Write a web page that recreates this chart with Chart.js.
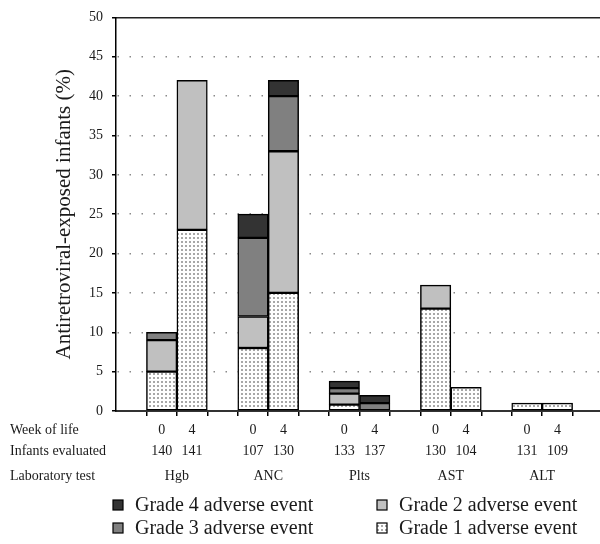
<!DOCTYPE html>
<html>
<head>
<meta charset="utf-8">
<script src="https://cdn.jsdelivr.net/npm/chart.js@4"></script>
<style>
  html, body { margin: 0; padding: 0; background: #fff; }
  #wrap { width: 600px; height: 544px; }
</style>
</head>
<body>
<div id="wrap"><canvas id="myChart"></canvas></div>
<script>
// data (order: Hgb w0, Hgb w4, ANC w0, ANC w4, ...)
const tests = ['Hgb', 'ANC', 'Plts', 'AST', 'ALT'];
const weeks = ['0', '4'];
const infantsEvaluated = [140, 141, 107, 130, 133, 137, 130, 104, 131, 109];
const grade1 = [5, 23, 8, 15, 0.8, 0, 13, 3, 1, 1];
const grade2 = [4, 19, 4, 18, 1.4, 0, 3, 0, 0, 0];
const grade3 = [1, 0, 10, 7, 0.7, 1, 0, 0, 0, 0];
const grade4 = [0, 0, 3, 2, 0.9, 1, 0, 0, 0, 0];
const gradeLabels = ['Grade 1 adverse event', 'Grade 2 adverse event', 'Grade 3 adverse event', 'Grade 4 adverse event'];

document.addEventListener("DOMContentLoaded", function () {
  const canvas = document.getElementById("myChart");
  const ctx = canvas.getContext('2d');

  // each test gets a gap slot followed by one slot per week
  const barCenters = tests.flatMap((t, i) => weeks.map((w, j) => 1.5 + 3 * i + j));
  const groupCenters = tests.map((t, i) => 2 + 3 * i);
  const edgeTicks = tests.flatMap((t, i) => [1, 2, 3].map(k => k + 3 * i));
  const xMax = 15.9;

  function toPoints(values) {
    return values.map((v, k) => ({ x: barCenters[k], y: v })).filter(p => p.y > 0);
  }

  // dotted fill for grade 1
  const tile = document.createElement('canvas');
  tile.width = 4; tile.height = 4;
  const tg = tile.getContext('2d');
  tg.fillStyle = '#ffffff'; tg.fillRect(0, 0, 4, 4);
  tg.fillStyle = '#a8a8a8'; tg.fillRect(1, 1, 2, 2);
  const stipple = ctx.createPattern(tile, 'repeat');

  Chart.defaults.font.family = '"Liberation Serif", "Times New Roman", serif';
  Chart.defaults.color = '#1a1a1a';

  const barStyle = { borderColor: '#000', borderWidth: 1.5, borderSkipped: false, barPercentage: 1, categoryPercentage: 1 };

  const sideText = {
    id: 'sideText',
    afterDraw(chart) {
      const c = chart.ctx;
      const xw = chart.scales.xw, xl = chart.scales.xl;
      c.save();
      c.fillStyle = '#1a1a1a';
      c.textAlign = 'left';
      c.textBaseline = 'middle';
      c.font = '14px "Liberation Serif"';
      const row1 = xw.top + 4 + 10.5;
      c.fillText('Week of life', 10, row1);
      c.fillText('Infants evaluated', 10, row1 + 21);
      c.fillText('Laboratory test', 10, xl.top + 1.5 + 10.5);

      // legend, two columns: grade 4 / grade 3 on the left, grade 2 / grade 1 on the right
      const ds = chart.data.datasets;
      const layout = [[3, 1], [2, 0]];
      const colX = [113, 377];
      const rowY = [xl.bottom + 17, xl.bottom + 40];
      c.font = '20px "Liberation Serif"';
      layout.forEach((row, r) => {
        row.forEach((di, col) => {
          const x = colX[col], y = rowY[r];
          c.fillStyle = ds[di].backgroundColor;
          c.fillRect(x, y - 5, 10, 10);
          c.strokeStyle = '#000';
          c.lineWidth = 1.2;
          c.strokeRect(x, y - 5, 10, 10);
          c.fillStyle = '#1a1a1a';
          c.fillText(ds[di].label, x + 22, y + 1);
        });
      });
      c.restore();
    }
  };

  const labelAxis = {
    type: 'linear',
    position: 'bottom',
    min: 0, max: xMax,
    offset: false,
    grid: { display: false, drawTicks: false, tickLength: 0, offset: false },
    border: { display: false }
  };

  new Chart(canvas, {
    type: 'bar',
    data: {
      datasets: [
        { label: gradeLabels[0], data: toPoints(grade1), backgroundColor: stipple, ...barStyle },
        { label: gradeLabels[1], data: toPoints(grade2), backgroundColor: '#c0c0c0', ...barStyle },
        { label: gradeLabels[2], data: toPoints(grade3), backgroundColor: '#808080', ...barStyle },
        { label: gradeLabels[3], data: toPoints(grade4), backgroundColor: '#333333', ...barStyle }
      ]
    },
    options: {
      responsive: true,
      maintainAspectRatio: false,
      animation: false,
      layout: { padding: { top: 16, right: 0, bottom: 56, left: 0 } },
      plugins: {
        legend: { display: false },
        tooltip: { enabled: false }
      },
      scales: {
        x: {
          type: 'linear',
          stacked: true,
          min: 0, max: xMax,
          offset: false,
          weight: 0,
          afterBuildTicks: s => { s.ticks = edgeTicks.map(v => ({ value: v })); },
          afterFit: s => { s.height = 5; },
          ticks: { display: false },
          grid: { offset: false, drawOnChartArea: false, tickLength: 5, color: '#000', lineWidth: 1.5 },
          border: { display: true, color: '#333', width: 2 }
        },
        xw: {
          ...labelAxis,
          weight: 1,
          afterBuildTicks: s => { s.ticks = barCenters.map(v => ({ value: v })); },
          afterFit: s => { s.height = 48; },
          ticks: {
            autoSkip: false, maxRotation: 0, padding: 4,
            font: { size: 14, lineHeight: 1.5 },
            callback: (v, i) => [weeks[i % 2], String(infantsEvaluated[i])]
          }
        },
        xl: {
          ...labelAxis,
          weight: 2,
          afterBuildTicks: s => { s.ticks = groupCenters.map(v => ({ value: v })); },
          afterFit: s => { s.height = 24; },
          ticks: {
            autoSkip: false, maxRotation: 0, padding: 1.5,
            font: { size: 14, lineHeight: 1.5 },
            callback: (v, i) => tests[i]
          }
        },
        xt: {
          ...labelAxis,
          position: 'top',
          display: true,
          afterFit: s => { s.height = 0; },
          ticks: { display: false },
          border: { display: true, color: '#222', width: 1.5 }
        },
        y: {
          stacked: true,
          min: 0, max: 50,
          afterFit: s => { s.width = 116; },
          ticks: { stepSize: 5, padding: 9, font: { size: 14 } },
          grid: {
            color: c => (c.tick && c.tick.value > 0 && c.tick.value < 50) ? '#8a8a8a' : 'rgba(0,0,0,0)',
            lineWidth: 1.5,
            tickColor: '#000',
            tickLength: 4
          },
          border: { display: true, color: '#000', width: 1.5, dash: [1.5, 10.5], dashOffset: 11 },
          title: {
            display: true,
            text: 'Antiretroviral-exposed infants (%)',
            font: { size: 21 },
            padding: { top: 52, bottom: 0 }
          }
        }
      }
    },
    plugins: [sideText]
  });
});
</script>
</body>
</html>
